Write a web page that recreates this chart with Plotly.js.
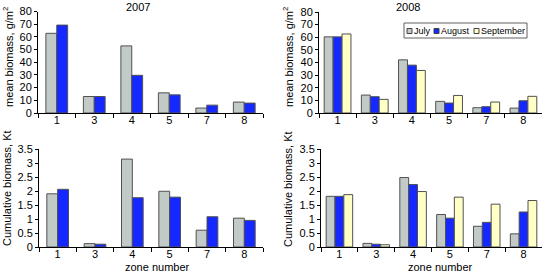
<!DOCTYPE html>
<html><head><meta charset="utf-8">
<script src="https://cdn.plot.ly/plotly-3.0.1.min.js"></script>
<style>html,body{margin:0;padding:0;background:#fff}#c{width:543px;height:273px}</style>
</head><body><div id="c"></div>
<script>
const zones = ['1','3','4','5','7','8'];
// 2007 mean biomass g/m2
const mean2007Jul = [62.8, 13, 52.9, 15.9, 3.9, 8.6];
const mean2007Aug = [69.3, 13, 29.7, 14.3, 6.2, 7.8];
// 2008 mean biomass g/m2
const mean2008Jul = [60.3, 14.2, 42.1, 9.2, 4.2, 3.9];
const mean2008Aug = [60.3, 12.9, 37.9, 7.9, 5.0, 9.7];
const mean2008Sep = [62.6, 10.8, 33.7, 13.9, 8.7, 13.2];
// cumulative biomass Kt
const cum2007Jul = [1.90, 0.12, 3.14, 1.99, 0.60, 1.03];
const cum2007Aug = [2.06, 0.10, 1.76, 1.78, 1.08, 0.95];
const cum2008Jul = [1.81, 0.13, 2.48, 1.16, 0.74, 0.47];
const cum2008Aug = [1.81, 0.10, 2.23, 1.03, 0.88, 1.25];
const cum2008Sep = [1.87, 0.08, 1.98, 1.78, 1.53, 1.66];

const seriesNames = ['July','August','September'];
const yearTitles = ['2007','2008'];
const yTitleMean = 'mean biomass, g/m<sup>2</sup>';
const yTitleCum = 'Cumulative biomass, Kt';
const xTitle = 'zone number';

const colors = ['#c2cac8', '#1428ff', '#ffffc6'];
const line = {color:'#505050', width:1};

function bar(y, xa, ya, idx, n){
  const w = n === 2 ? 0.29 : 0.24;
  const off = -w*n/2 + idx*w;
  return {type:'bar', x:zones, y:y, xaxis:xa, yaxis:ya, name:seriesNames[idx],
    marker:{color:colors[idx], line:line}, width:w, offset:off,
    showlegend:false, hoverinfo:'none'};
}

const data = [
  bar(mean2007Jul,'x','y',0,2),
  bar(mean2007Aug,'x','y',1,2),
  bar(mean2008Jul,'x2','y2',0,3),
  bar(mean2008Aug,'x2','y2',1,3),
  bar(mean2008Sep,'x2','y2',2,3),
  bar(cum2007Jul,'x3','y3',0,2),
  bar(cum2007Aug,'x3','y3',1,2),
  bar(cum2008Jul,'x4','y4',0,3),
  bar(cum2008Aug,'x4','y4',1,3),
  bar(cum2008Sep,'x4','y4',2,3)
];

const W=543, H=273;
const font = {family:'Liberation Sans, Arial, sans-serif', size:11, color:'#000'};
function xax(x0,x1,anchor){
  return {domain:[x0/W,x1/W], anchor:anchor, type:'category', showline:true, linecolor:'#000', linewidth:1,
    ticks:'outside', tickson:'boundaries', ticklen:4, tickcolor:'#000', showgrid:false, zeroline:false,
    tickfont:{size:11}, ticklabelstandoff:-3, range:[-0.5,5.5], fixedrange:true, automargin:false};
}
function yax(y0,y1,anchor,range,dtick){
  return {domain:[1-y1/H,1-y0/H], anchor:anchor, range:range, dtick:dtick, showline:true, linecolor:'#000', linewidth:1,
    ticks:'outside', ticklen:3, tickcolor:'#000', showgrid:false, zeroline:false, tickfont:{size:11},
    fixedrange:true, automargin:false};
}
function px(x){return x/W;}
function py(y){return 1-y/H;}
function txt(t,x,y,opts){
  return Object.assign({text:t, x:px(x), y:py(y), xref:'paper', yref:'paper', showarrow:false,
    xanchor:'center', yanchor:'middle', font:{size:11}}, opts||{});
}

// custom compact legend (squares + labels) inside the 2008 panel
const legX = [407, 434, 474];
const legTextX = [412, 439, 479];
const legShapes = [{type:'rect', xref:'paper', yref:'paper', x0:px(404), x1:px(527), y0:py(38), y1:py(23),
  line:{color:'#606060', width:1}, fillcolor:'#fff', layer:'above'}];
const legAnn = [];
seriesNames.forEach((n,i)=>{
  legShapes.push({type:'rect', xref:'paper', yref:'paper', x0:px(legX[i]), x1:px(legX[i]+5), y0:py(33.5), y1:py(28.5),
    line:{color:'#404040', width:1}, fillcolor:colors[i], layer:'above'});
  legAnn.push(txt(n, legTextX[i], 31, {xanchor:'left', font:{size:9}}));
});

const layout = {
  width:W, height:H, margin:{l:0,r:0,t:0,b:0, autoexpand:false}, paper_bgcolor:'#fff', plot_bgcolor:'rgba(0,0,0,0)',
  font:font, barmode:'overlay', showlegend:false,
  xaxis: xax(38,263,'y'),
  yaxis: yax(11.5,113,'x',[0,80],10),
  xaxis2: xax(319,542,'y2'),
  yaxis2: yax(12,113,'x2',[0,80],10),
  xaxis3: xax(39,263,'y3'),
  yaxis3: yax(149,247,'x3',[0,3.5],0.5),
  xaxis4: xax(321,542,'y4'),
  yaxis4: yax(149,247,'x4',[0,3.5],0.5),
  shapes: legShapes,
  annotations:[
    txt(yearTitles[0], 138, 7),
    txt(yearTitles[1], 408, 7),
    txt(yTitleMean, 8, 57, {textangle:-90}),
    txt(yTitleMean, 288, 57, {textangle:-90}),
    txt(yTitleCum, 7, 188, {textangle:-90}),
    txt(yTitleCum, 288, 189, {textangle:-90}),
    txt(xTitle, 157, 267),
    txt(xTitle, 440, 267)
  ].concat(legAnn)
};
Plotly.newPlot('c', data, layout, {staticPlot:true, displayModeBar:false});
</script></body></html>
